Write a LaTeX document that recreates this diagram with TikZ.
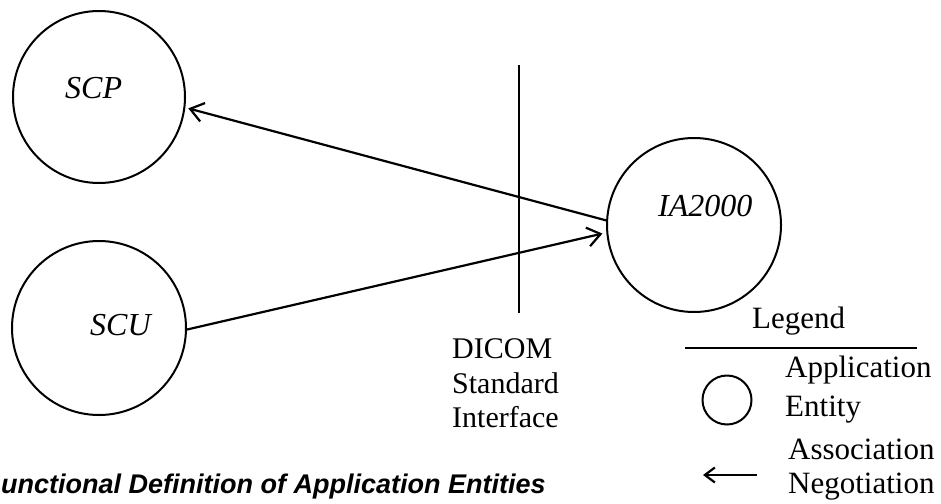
\documentclass[tikz,border=0pt]{standalone}
\usepackage{fontspec}
\setmainfont{Liberation Serif}
\newfontfamily\capfont{Liberation Sans}
\usetikzlibrary{arrows.meta}
\tikzset{
  ae/.style={circle, draw, line width=2pt, inner sep=0pt},
  conn/.style={line width=2.2pt, -{Straight Barb[length=13pt,width=19pt,line width=2.2pt]}},
  lbl/.style={inner sep=0pt, anchor=base west, font=\fontsize{32}{36}\selectfont\itshape},
  txt/.style={inner sep=0pt, anchor=base west, font=\fontsize{30}{34}\selectfont},
  legtxt/.style={inner sep=0pt, anchor=base west, font=\fontsize{31}{35}\selectfont},
}
\begin{document}
\begin{tikzpicture}[x=1pt,y=-1pt]
\useasboundingbox (0,0) rectangle (941,503);
% application entities
\node[ae, minimum size=172pt] (scp) at (99,97) {};
\node[ae, minimum size=174pt] (scu) at (99,328) {};
\node[ae, minimum size=174pt] (ia) at (694,225) {};
\node[lbl] (scpl) at (65,98) {SCP};
\node[lbl] (scul) at (90,335) {SCU};
\node[lbl] (ial) at (658,216) {IA2000};
% DICOM interface line
\coordinate (itop) at (519,65);
\coordinate (ibot) at (519,313);
\draw[line width=2.2pt] (itop) -- (ibot);
% association arrows
\draw[conn, shorten >=3pt] (ia.177) -- (scp.-7);
\draw[conn, shorten >=4pt] (scu.-1) -- (ia.185);
% DICOM text
\node[txt] (d1) at (452,358) {DICOM};
\node[txt] (d2) at (452,393) {Standard};
\node[txt] (d3) at (452,427) {Interface};
% legend
\node[legtxt] (leg) at (752,328) {Legend};
\coordinate (lla) at (685,348);
\coordinate (llb) at (917,348);
\draw[line width=2.2pt] (lla) -- (llb);
\node[ae, minimum size=49pt] (legc) at (727,400) {};
\node[legtxt] (la1) at (785,377) {Application};
\node[legtxt] (la2) at (785,416) {Entity};
\node[legtxt] (la3) at (788,459) {Association};
\node[legtxt] (la4) at (788,493) {Negotiation};
\coordinate (lga) at (757,475);
\coordinate (lgb) at (703,475);
\draw[line width=2.2pt, -{Straight Barb[length=10pt,width=15pt,line width=2.2pt]}] (lga) -- (lgb);
% caption
\node[inner sep=0pt, anchor=base west, font=\capfont\bfseries\itshape\fontsize{27}{30}\selectfont] (cap) at (1,493) {unctional Definition of Application Entities};
\end{tikzpicture}
\end{document}
